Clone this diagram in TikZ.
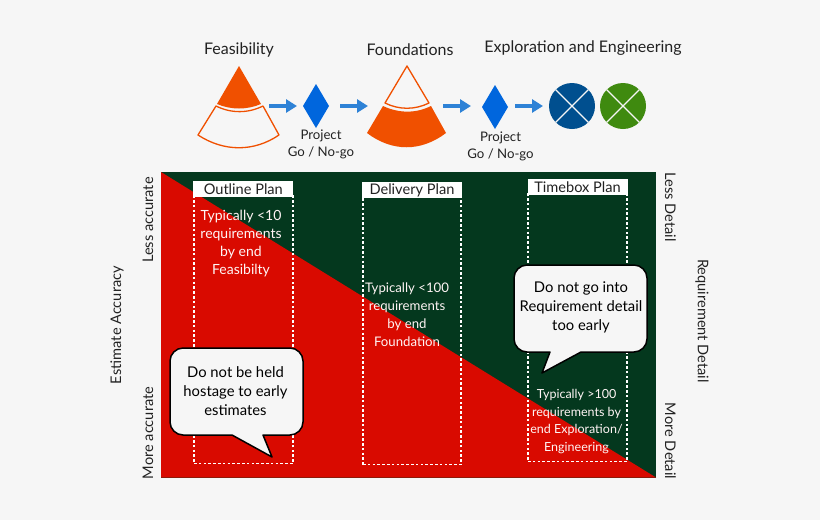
\documentclass[tikz,border=0pt]{standalone}
\usepackage{fontspec}
\setmainfont{Lato}
\usetikzlibrary{arrows.meta,shapes.geometric}
\definecolor{bgc}{HTML}{F6F6F6}
\definecolor{redc}{HTML}{D90A00}
\definecolor{greenc}{HTML}{04381E}
\definecolor{orangec}{HTML}{F05000}
\definecolor{diac}{HTML}{0066DD}
\definecolor{arrc}{HTML}{2E82D6}
\definecolor{bluec}{HTML}{004F8F}
\definecolor{leafc}{HTML}{3F8A0F}
\definecolor{inkc}{HTML}{222222}
\tikzset{
 x=1pt,y=-1pt,
 lbl/.style={text=inkc,inner sep=0pt,align=center},
 phase/.style={lbl,font=\fontsize{16}{18}\selectfont},
 small/.style={lbl,font=\fontsize{13.2}{17.5}\selectfont},
 axis/.style={lbl,font=\fontsize{14.6}{18}\selectfont},
 planbox/.style={draw=white,line width=1.6pt,dash pattern=on 2.6pt off 2.2pt,inner sep=0pt},
 planhead/.style={fill=white,text=inkc,inner sep=0pt,minimum width=100pt,minimum height=16pt,font=\fontsize{14.6}{16}\selectfont},
 note/.style={inner sep=0pt,align=center,text=white!96!red,font=\fontsize{14}{18}\selectfont},
 calltext/.style={lbl,text=black,font=\fontsize{14.8}{19}\selectfont},
 callshape/.style={fill=bgc,draw=black,line width=1.5pt,line join=round},
 conedraw/.style={draw=orangec,line width=1.3pt,line join=round},
 conefill/.style={fill=orangec},
 stepnode/.style={inner sep=0pt,outer sep=0pt,minimum height=20pt},
 gate/.style={diamond,fill=diac,inner sep=0pt,outer sep=0pt,minimum width=26pt,minimum height=44pt},
 flow/.style={draw=arrc,line width=3.6pt,-{Triangle[length=11pt,width=13pt]}},
 disc/.style={circle,inner sep=0pt,outer sep=0pt,minimum size=46pt},
 xline/.style={draw=bgc,line width=1.4pt},
}
\begin{document}
\begin{tikzpicture}
\useasboundingbox (0,0) rectangle (820,520);
\fill[bgc] (0,0) rectangle (820,520);

% headings
\node[phase] (h1) at (239,50) {Feasibility};
\node[phase] (h2) at (410,50) {Foundations};
\node[phase] (h3) at (583,48) {Exploration and Engineering};

% cones
\path[conefill] (239,66) -- (261,104) .. controls (247,110) and (231,110) .. (217,104) -- cycle;
\path[conedraw] (216,106) .. controls (231,113.5) and (248,113.5) .. (263,106) -- (279,135) .. controls (254,152) and (224,152) .. (198,135) -- cycle;
\path[conedraw] (407,66) -- (429,103) .. controls (415,110) and (399,110) .. (385,103) -- cycle;
\path[conefill] (383,106) .. controls (399,113.5) and (416,113.5) .. (431,106) -- (446,133) .. controls (421,152) and (392,152) .. (367,133) -- cycle;
\node[stepnode,minimum width=60pt] (c1) at (239,106) {};
\node[stepnode,minimum width=75pt] (c2) at (405.5,106) {};

% gates
\node[gate] (d1) at (316,106) {};
\node[gate] (d2) at (495,107) {};
\node[small] (t1) at (321,144.5) {Project\\Go / No-go};
\node[small] (t2) at (500.5,146.5) {Project\\Go / No-go};

% discs
\node[disc,fill=bluec] (o1) at (572,106) {};
\node[disc,fill=leafc] (o2) at (623,106) {};
\foreach \o in {o1,o2}{
 \draw[xline] (\o.45) -- (\o.225);
 \draw[xline] (\o.135) -- (\o.315);
}

% flow arrows
\draw[flow] (c1.east |- 0,106) -- ([xshift=-6pt]d1.west);
\draw[flow] ([xshift=11pt]d1.east) -- (c2.west);
\draw[flow] (c2.east) -- ([xshift=-11pt]d2.west |- 0,106);
\draw[flow] ([xshift=7pt]d2.east |- 0,106) -- ([xshift=-6pt]o1.west);

% main field
\fill[greenc] (161,172) rectangle (656,477.5);
\fill[redc] (161,172) -- (656,477.5) -- (161,477.5) -- cycle;

% plan boxes
\node[planbox,minimum width=99pt,minimum height=268pt] (b1) at (243.5,329.5) {};
\node[planbox,minimum width=98pt,minimum height=268pt] (b2) at (412,330.5) {};
\node[planbox,minimum width=99pt,minimum height=268pt] (b3) at (577.5,327.5) {};
\node[planhead] (p1) at (243.3,189) {Outline Plan};
\node[planhead] (p2) at (412,190) {Delivery Plan};
\node[planhead] (p3) at (577.5,187) {Timebox Plan};

% notes
\node[note] (n1) at (241,243.5) {Typically <10\\requirements\\by end\\Feasibilty};
\node[note,font=\fontsize{13.2}{18}\selectfont] (n2) at (407,314.5) {Typically <100\\requirements\\by end\\Foundation};
\node[note,font=\fontsize{12.5}{17.6}\selectfont] (n3) at (576.5,421.5) {Typically >100\\requirements by\\end Exploration/\\Engineering};

% callouts
\path[callshape] (183,348) -- (290,348) .. controls (297,348) and (303,354) .. (303,361) -- (303,422) .. controls (303,429) and (297,435) .. (290,435) -- (263,435) -- (272,457) -- (232,435) -- (183,435) .. controls (176,435) and (170,429) .. (170,422) -- (170,361) .. controls (170,354) and (176,348) .. (183,348) -- cycle;
\node[calltext] (k1) at (235.5,391) {Do not be held\\hostage to early\\estimates};
\path[callshape] (527,265) -- (634,265) .. controls (641,265) and (647,271) .. (647,278) -- (647,339) .. controls (647,346) and (641,352) .. (634,352) -- (581,352) -- (542,373) -- (550,352) -- (527,352) .. controls (520,352) and (514,346) .. (514,339) -- (514,278) .. controls (514,271) and (520,265) .. (527,265) -- cycle;
\node[calltext] (k2) at (581,307.5) {Do not go into\\Requirement detail\\too early};

% axis labels
\node[axis,rotate=90] (a1) at (117,325) {Estimate Accuracy};
\node[axis,rotate=90] (a2) at (148,220) {Less accurate};
\node[axis,rotate=90] (a3) at (148,433) {More accurate};
\node[axis,rotate=-90] (a4) at (670.5,207) {Less Detail};
\node[axis,rotate=-90] (a5) at (670.5,441) {More Detail};
\node[axis,rotate=-90] (a6) at (702,321) {Requirement Detail};
\end{tikzpicture}
\end{document}
